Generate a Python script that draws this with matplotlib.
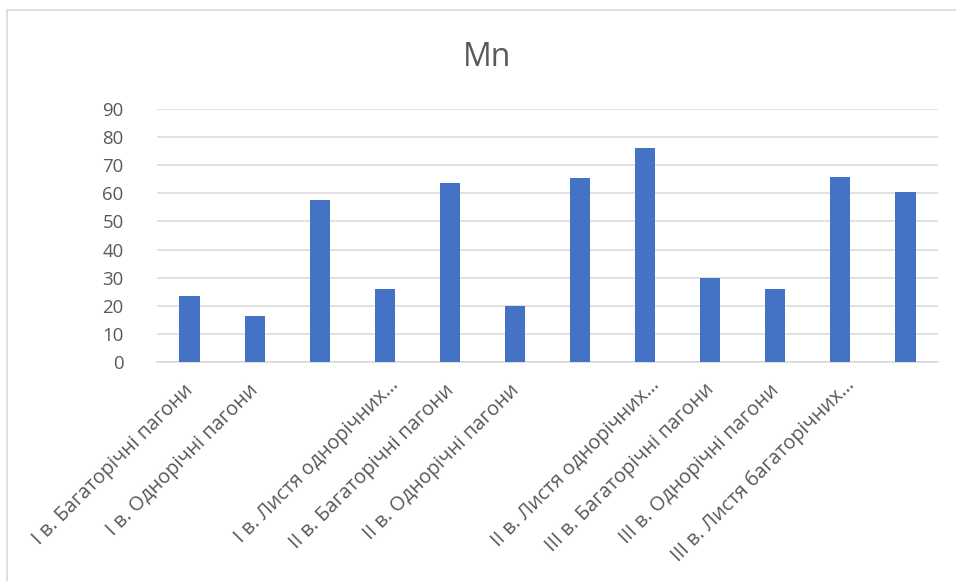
import matplotlib.pyplot as plt
import matplotlib.transforms as mtransforms
from matplotlib.patches import Rectangle

plt.rcParams['font.family'] = ['Open Sans', 'DejaVu Sans']

# Mn content by sample (category order as in the source table)
categories = [
    "I в. Багаторічні пагони",
    "I в. Однорічні пагони",
    "I в. Листя багаторічних пагонів",
    "I в. Листя однорічних пагонів",
    "II в. Багаторічні пагони",
    "II в. Однорічні пагони",
    "II в. Листя багаторічних пагонів",
    "II в. Листя однорічних пагонів",
    "III в. Багаторічні пагони",
    "III в. Однорічні пагони",
    "III в. Листя багаторічних пагонів",
    "III в. Листя однорічних пагонів",
]
mn_values = [23.4, 16.3, 57.8, 25.8, 63.6, 19.8, 65.4, 76.2, 30.0, 25.9, 65.7, 60.4]

# axis labels as shown (some skipped, long ones cut)
tick_labels = [
    "I в. Багаторічні пагони",
    "I в. Однорічні пагони",
    "",
    "I в. Листя однорічних…",
    "II в. Багаторічні пагони",
    "II в. Однорічні пагони",
    "",
    "II в. Листя однорічних…",
    "III в. Багаторічні пагони",
    "III в. Однорічні пагони",
    "III в. Листя багаторічних…",
    "",
]
y_ticks = list(range(0, 91, 10))

BAR = "#4472C4"
GRID = "#D9D9D9"
TEXT = "#595959"

fig = plt.figure(figsize=(9.56, 5.81), dpi=100)
W, H = 956, 581
ax = fig.add_axes([157 / W, 1 - 362 / H, (938 - 157) / W, (362 - 109) / H])

x = list(range(len(categories)))
ax.bar(x, mn_values, width=0.31, color=BAR, zorder=3)

ax.set_xlim(-0.5, len(categories) - 0.5)
ax.set_ylim(0, 90)
ax.set_yticks(y_ticks)
ax.set_yticklabels([str(v) for v in y_ticks], fontsize=13.4, color=TEXT)
ax.yaxis.grid(True, color=GRID, linewidth=1.1, zorder=0)
ax.tick_params(axis='both', length=0)
ax.tick_params(axis='y', pad=24)

ax.set_xticks(x)
ax.set_xticklabels(tick_labels, rotation=45, ha='right', va='top',
                   rotation_mode='anchor', fontsize=14.3, color=TEXT)
ax.tick_params(axis='x', pad=13)

# nudge rotated labels left a little; the cut labels sit higher
shift = mtransforms.ScaledTranslation(-6 / 100, 0, fig.dpi_scale_trans)
cut_shift = mtransforms.ScaledTranslation(4 / 100, 5 / 100, fig.dpi_scale_trans)
for lbl in ax.get_xticklabels():
    if lbl.get_text().endswith("…"):
        lbl.set_transform(lbl.get_transform() + cut_shift)
    else:
        lbl.set_transform(lbl.get_transform() + shift)

for side in ("top", "right", "left"):
    ax.spines[side].set_visible(False)
ax.spines["bottom"].set_color(GRID)
ax.spines["bottom"].set_linewidth(1.1)

fig.text(487 / W, 1 - 66 / H, "Mn", ha='center', va='baseline',
         fontsize=23, color=TEXT)

# chart area frame (runs off the right and bottom edges)
fig.patches.append(Rectangle((7 / W, -0.1), 1.2, 1 - 10 / H + 0.1,
                             transform=fig.transFigure, fill=False,
                             edgecolor=GRID, linewidth=1.2))

fig.savefig("out.png", dpi=100)
